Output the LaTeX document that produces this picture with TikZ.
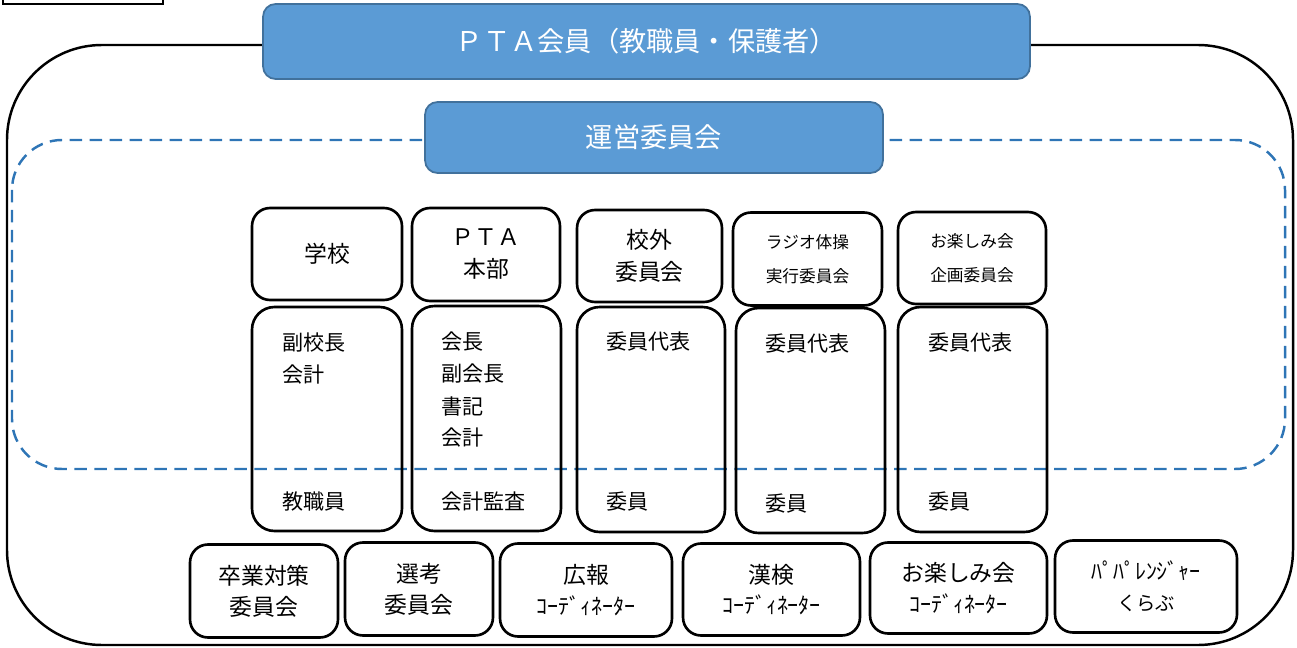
\documentclass[tikz,border=0pt]{standalone}
\usepackage{fontspec}
\setmainfont{Noto Sans CJK JP}
\usepackage{tikz}
\definecolor{headblue}{HTML}{5B9BD5}
\definecolor{headline}{HTML}{41719C}
\definecolor{dashblue}{HTML}{2E75B6}
\newcommand{\kana}[1]{{\fontsize{12.5}{14}\selectfont #1}}

\begin{document}
\begin{tikzpicture}[x=0.02cm, y=-0.02cm]
        \tikzset{head/.style = {shape=rectangle, rounded corners=0.25cm, fill=headblue,
                draw=headline, line width=1pt, text=white,
                font=\fontsize{15.5}{18}\selectfont}}
        \tikzset{unit/.style = {shape=rectangle, rounded corners=0.36cm, draw,
                line width=1.5pt, align=center, font=\fontsize{13}{18.2}\selectfont}}
        \tikzset{small/.style = {unit, font=\fontsize{9.5}{19}\selectfont}}
        \tikzset{member/.style = {shape=rectangle, rounded corners=0.45cm, draw,
                line width=1.5pt}}
        \tikzset{item/.style = {anchor=west, inner sep=0pt, font=\fontsize{12}{14}\selectfont}}
        \tikzset{bottom/.style = {unit, font=\fontsize{13}{17.5}\selectfont}}

        \useasboundingbox (0, 0) rectangle (1297, 648);
        \draw[line width=1.2pt] (3, -20) rectangle (163, 4);

        % outer frame and the council area
        \draw[line width=1.4pt, rounded corners=1.9cm] (7, 45) rectangle (1293, 645);
        \draw[dashblue, line width=1.4pt, dash pattern=on 0.25cm off 0.15cm,
                rounded corners=1cm] (12, 140) rectangle (1285, 469);

        \node[head, minimum width=15.34cm, minimum height=1.5cm] (members) at (646.5, 41.5)
                {ＰＴＡ会員（教職員・保護者）};
        \node[head, minimum width=9.16cm, minimum height=1.42cm] (council) at (654, 137.5)
                {運営委員会};

        \node[unit, minimum width=3cm, minimum height=1.84cm] (school) at (327, 254) {学校};
        \node[unit, minimum width=2.96cm, minimum height=1.86cm] (hq) at (486, 254.5)
                {ＰＴＡ\\本部};
        \node[unit, minimum width=2.9cm, minimum height=1.84cm] (outside) at (649.5, 256)
                {校外\\委員会};
        \node[small, minimum width=2.98cm, minimum height=1.86cm] (radio) at (807.5, 259)
                {ラジオ体操\\実行委員会};
        \node[small, minimum width=2.96cm, minimum height=1.84cm] (party) at (972, 258)
                {お楽しみ会\\企画委員会};

        \node[member, minimum width=3cm, minimum height=4.48cm] (schoolm) at (327, 419) {};
        \node[member, minimum width=2.98cm, minimum height=4.5cm] (hqm) at (486.5, 418.5) {};
        \node[member, minimum width=2.96cm, minimum height=4.5cm] (outsidem) at (651, 419.5) {};
        \node[member, minimum width=2.98cm, minimum height=4.5cm] (radiom) at (810.5, 420.5) {};
        \node[member, minimum width=2.98cm, minimum height=4.5cm] (partym) at (972.5, 419.5) {};

        \node[item] (vp) at (282, 343) {副校長};
        \node[item] (sacc) at (282, 375) {会計};
        \node[item] (staff) at (282, 502) {教職員};

        \node[item] (pres) at (441, 342) {会長};
        \node[item] (vpres) at (441, 374) {副会長};
        \node[item] (secr) at (441, 406) {書記};
        \node[item] (hacc) at (441, 438) {会計};
        \node[item] (audit) at (441, 502) {会計監査};

        \node[item] (orep) at (606, 342) {委員代表};
        \node[item] (omem) at (606, 502) {委員};
        \node[item] (rrep) at (765, 344) {委員代表};
        \node[item] (rmem) at (765, 504) {委員};
        \node[item] (prep) at (928, 343) {委員代表};
        \node[item] (pmem) at (928, 502) {委員};

        % committees and coordinators
        \node[bottom, minimum width=2.96cm, minimum height=1.86cm] (grad) at (264, 591)
                {卒業対策\\委員会};
        \node[bottom, minimum width=2.96cm, minimum height=1.86cm] (select) at (419, 589)
                {選考\\委員会};
        \node[bottom, minimum width=3.44cm, minimum height=1.86cm] (press) at (586, 590)
                {広報\\\kana{ｺｰﾃﾞｨﾈｰﾀｰ}};
        \node[bottom, minimum width=3.54cm, minimum height=1.84cm] (kanken) at (771.5, 589.5)
                {漢検\\\kana{ｺｰﾃﾞｨﾈｰﾀｰ}};
        \node[bottom, minimum width=3.54cm, minimum height=1.82cm] (partyc) at (958.5, 588)
                {お楽しみ会\\\kana{ｺｰﾃﾞｨﾈｰﾀｰ}};
        \node[bottom, minimum width=3.64cm, minimum height=1.84cm] (papa) at (1146, 586.5)
                {\kana{ﾊﾟﾊﾟﾚﾝｼﾞｬｰ}\\{\fontsize{11}{14}\selectfont くらぶ}};
\end{tikzpicture}
\end{document}
